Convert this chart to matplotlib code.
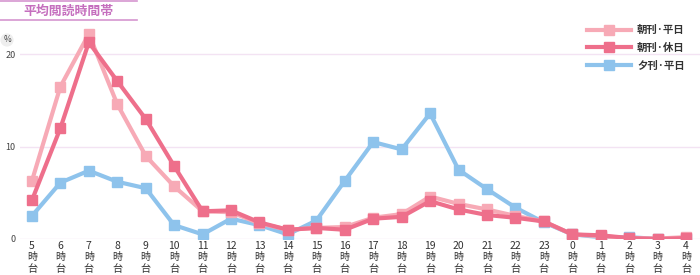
import matplotlib.pyplot as plt
from matplotlib.lines import Line2D

plt.rcParams['font.family'] = ['Noto Sans CJK JP', 'DejaVu Sans']

hours = [5, 6, 7, 8, 9, 10, 11, 12, 13, 14, 15, 16, 17, 18, 19, 20, 21, 22, 23, 0, 1, 2, 3, 4]
unit_lines = ["時", "台"]

morning_weekday = [6.3, 16.5, 22.2, 14.6, 9.0, 5.7, 3.0, 2.9, 1.7, 1.0, 1.2, 1.3, 2.3, 2.7,
                   4.6, 3.8, 3.2, 2.5, 1.9, 0.5, 0.3, 0.1, 0.05, 0.2]
morning_holiday = [4.2, 12.0, 21.3, 17.1, 13.0, 7.9, 3.0, 3.1, 1.8, 1.0, 1.2, 1.0, 2.2, 2.4,
                   4.1, 3.2, 2.6, 2.3, 1.9, 0.5, 0.4, 0.1, 0.0, 0.1]
evening_weekday = [2.5, 6.1, 7.4, 6.2, 5.5, 1.5, 0.5, 2.2, 1.5, 0.5, 2.0, 6.3, 10.5, 9.7,
                   13.6, 7.5, 5.4, 3.4, 1.8, 0.5, 0.2, 0.2, 0.0, 0.05]

series = [
    ("朝刊·平日", morning_weekday, "#f7aab6"),
    ("朝刊·休日", morning_holiday, "#ee6f8b"),
    ("夕刊·平日", evening_weekday, "#8ec3ec"),
]

fig = plt.figure(figsize=(7, 2.75), dpi=100)
ax = fig.add_axes([20 / 700, 36 / 275, 680 / 700, 217 / 275])

x = list(range(len(hours)))
# draw evening first so morning lines sit on top
for name, vals, col in [series[2], series[0], series[1]]:
    ax.plot(x, vals, color=col, lw=3, marker="s", ms=7, label=name, zorder=3)

ax.set_xlim(-0.42, 23.49)
ax.set_ylim(0, 23.5)
ax.set_yticks([0, 10, 20])
ax.set_xticks(x)
ax.set_xticklabels([str(h) for h in hours], fontsize=7.5, color="#333333")
ax.tick_params(axis="y", labelsize=6.5, colors="#444444", length=0, pad=3)
ax.tick_params(axis="x", length=0, pad=1.5)
# stacked unit characters under each hour
for xi in x:
    for k, ch in enumerate(unit_lines):
        ax.annotate(ch, xy=(xi, 0), xycoords=("data", "axes fraction"),
                    xytext=(0, -13.0 - 8.4 * k), textcoords="offset points",
                    ha="center", va="center", fontsize=7.3, color="#333333",
                    annotation_clip=False)
ax.grid(axis="y", color="#f3e3f3", lw=1)
for s in ax.spines.values():
    s.set_visible(False)
ax.set_axisbelow(True)

handles, labels = ax.get_legend_handles_labels()
order = [1, 2, 0]
leg = ax.legend([handles[i] for i in order], [labels[i] for i in order],
                loc="upper right", bbox_to_anchor=(694 / 700, 1 - 16 / 275),
                bbox_transform=fig.transFigure, frameon=False, fontsize=7.5,
                handlelength=4.2, labelspacing=0.72, handletextpad=0.6)
for t in leg.get_texts():
    t.set_color("#333333")
    t.set_fontweight("bold")

# title block
fig.text(68 / 700, 1 - 11 / 275, "平均閲読時間帯", ha="center", va="center",
         fontsize=9.3, color="#c56fbe", fontweight="bold")
fig.add_artist(Line2D([0, 137 / 700], [1 - 1 / 275, 1 - 1 / 275], color="#d596cf", lw=1.2))
fig.add_artist(Line2D([0, 137 / 700], [1 - 20 / 275, 1 - 20 / 275], color="#d596cf", lw=1.2))

fig.text(7 / 700, 1 - 40 / 275, "%", ha="center", va="center", fontsize=6, color="#444444",
         bbox=dict(boxstyle="circle,pad=0.25", fc="#eeeeee", ec="none"))

fig.savefig("out.png", dpi=100)
